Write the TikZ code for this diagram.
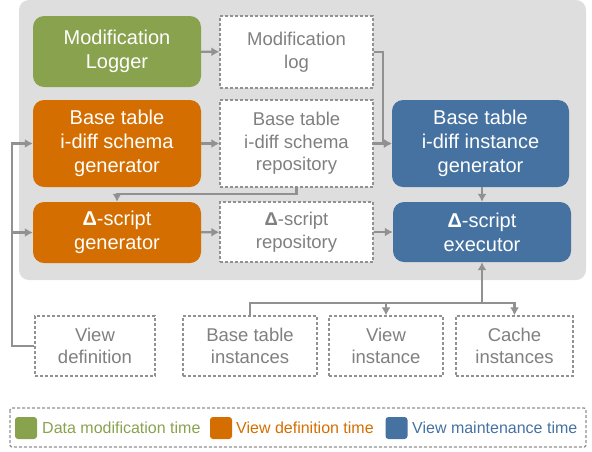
\documentclass[tikz,border=0pt]{standalone}
\usepackage{fontspec}
\setmainfont{Liberation Sans}
\usepackage{tikz}
\usetikzlibrary{calc,arrows.meta}

\definecolor{modgreen}{RGB}{137,162,78}
\definecolor{deforange}{RGB}{212,110,0}
\definecolor{mainblue}{RGB}{69,114,161}
\definecolor{panelgray}{RGB}{222,222,222}
\definecolor{textgray}{RGB}{128,128,128}
\definecolor{linegray}{RGB}{145,145,145}

\tikzset{
  proc/.style={rounded corners=11pt,text=white,align=center,inner sep=0pt,
    font=\fontsize{20}{24}\selectfont},
  store/.style={draw=linegray,fill=white,dashed,dash pattern=on 3pt off 2pt,
    line width=1.3pt,text=textgray,align=center,inner sep=0pt,
    font=\fontsize{18.5}{22.5}\selectfont},
  arr/.style={draw=linegray,line width=2.2pt,-{Latex[length=8pt,width=9pt]}},
  key/.style={rounded corners=3pt,minimum size=22pt,inner sep=0pt},
  keytext/.style={anchor=west,inner sep=0pt,font=\fontsize{16}{19}\selectfont}
}

\begin{document}
\begin{tikzpicture}[x=1pt,y=-1pt]
\useasboundingbox (0,0) rectangle (592,451);
\fill[panelgray,rounded corners=10pt] (19,0) rectangle (586,280);

\node[proc,fill=modgreen,minimum width=168pt,minimum height=71pt](logger)at(117,51.5){Modification\\Logger};
\node[store,minimum width=153pt,minimum height=72pt](modlog)at(296.5,52){Modification\\log};
\node[proc,fill=deforange,minimum width=168pt,minimum height=87pt](schemagen)at(117,143.5){Base table\\i-diff schema\\generator};
\node[store,minimum width=153pt,minimum height=87pt](schemarepo)at(296.5,143.5){Base table\\i-diff schema\\repository};
\node[proc,fill=mainblue,minimum width=177pt,minimum height=87pt](instgen)at(480.5,143.5){Base table\\i-diff instance\\generator};
\node[proc,fill=deforange,minimum width=168pt,minimum height=61pt](scriptgen)at(117,232.5){\textbf{Δ}-script\\generator};
\node[store,minimum width=153pt,minimum height=60pt](scriptrepo)at(296.5,232){\textbf{Δ}-script\\repository};
\node[proc,fill=mainblue,minimum width=178pt,minimum height=60pt](executor)at(482,232){\textbf{Δ}-script\\executor};

\node[store,minimum width=120pt,minimum height=60pt](viewdef)at(95,346){View\\definition};
\node[store,minimum width=134pt,minimum height=60pt](basetab)at(250,346){Base table\\instances};
\node[store,minimum width=114pt,minimum height=60pt](viewinst)at(386,346){View\\instance};
\node[store,minimum width=117pt,minimum height=60pt](cache)at(514.5,346){Cache\\instances};

\draw[arr] (logger) -- (modlog);
\draw[arr] (modlog.east) -- ++(9,0) |- (instgen.west);
\draw[arr] (schemagen) -- (schemarepo);
\draw[arr] (schemarepo) -- (instgen);
\draw[arr] (schemarepo.south) -- ++(0,6) -| (scriptgen.north);
\draw[arr] (instgen.south -| executor.north) -- (executor.north);
\draw[arr] (scriptgen) -- (scriptrepo);
\draw[arr] (scriptrepo) -- (executor);

% instances bus
\coordinate (bus) at (executor.south |- 0,303);
\draw[arr] (basetab.north) |- (bus) -- (executor.south);
\draw[arr] (bus) -| (viewinst.north);
\draw[arr] (bus) -| (cache.north);

% view definition feed
\coordinate (feed) at (12,143.5);
\draw[arr] (viewdef.west) -| (feed) -- (schemagen.west);
\draw[arr] (feed |- scriptgen.west) -- (scriptgen.west);

% legend
\draw[linegray,dashed,dash pattern=on 3pt off 2pt,line width=1.3pt,rounded corners=2pt] (10,408) rectangle (586,447);
\node[key,fill=modgreen](kgreen)at(26,428){};
\node[keytext,text=modgreen](tgreen)at(42,428){Data modification time};
\node[key,fill=deforange](korange)at(221,428){};
\node[keytext,text=deforange](torange)at(236,428){View definition time};
\node[key,fill=mainblue](kblue)at(396.5,428){};
\node[keytext,text=mainblue](tblue)at(412,428){View maintenance time};
\end{tikzpicture}
\end{document}
